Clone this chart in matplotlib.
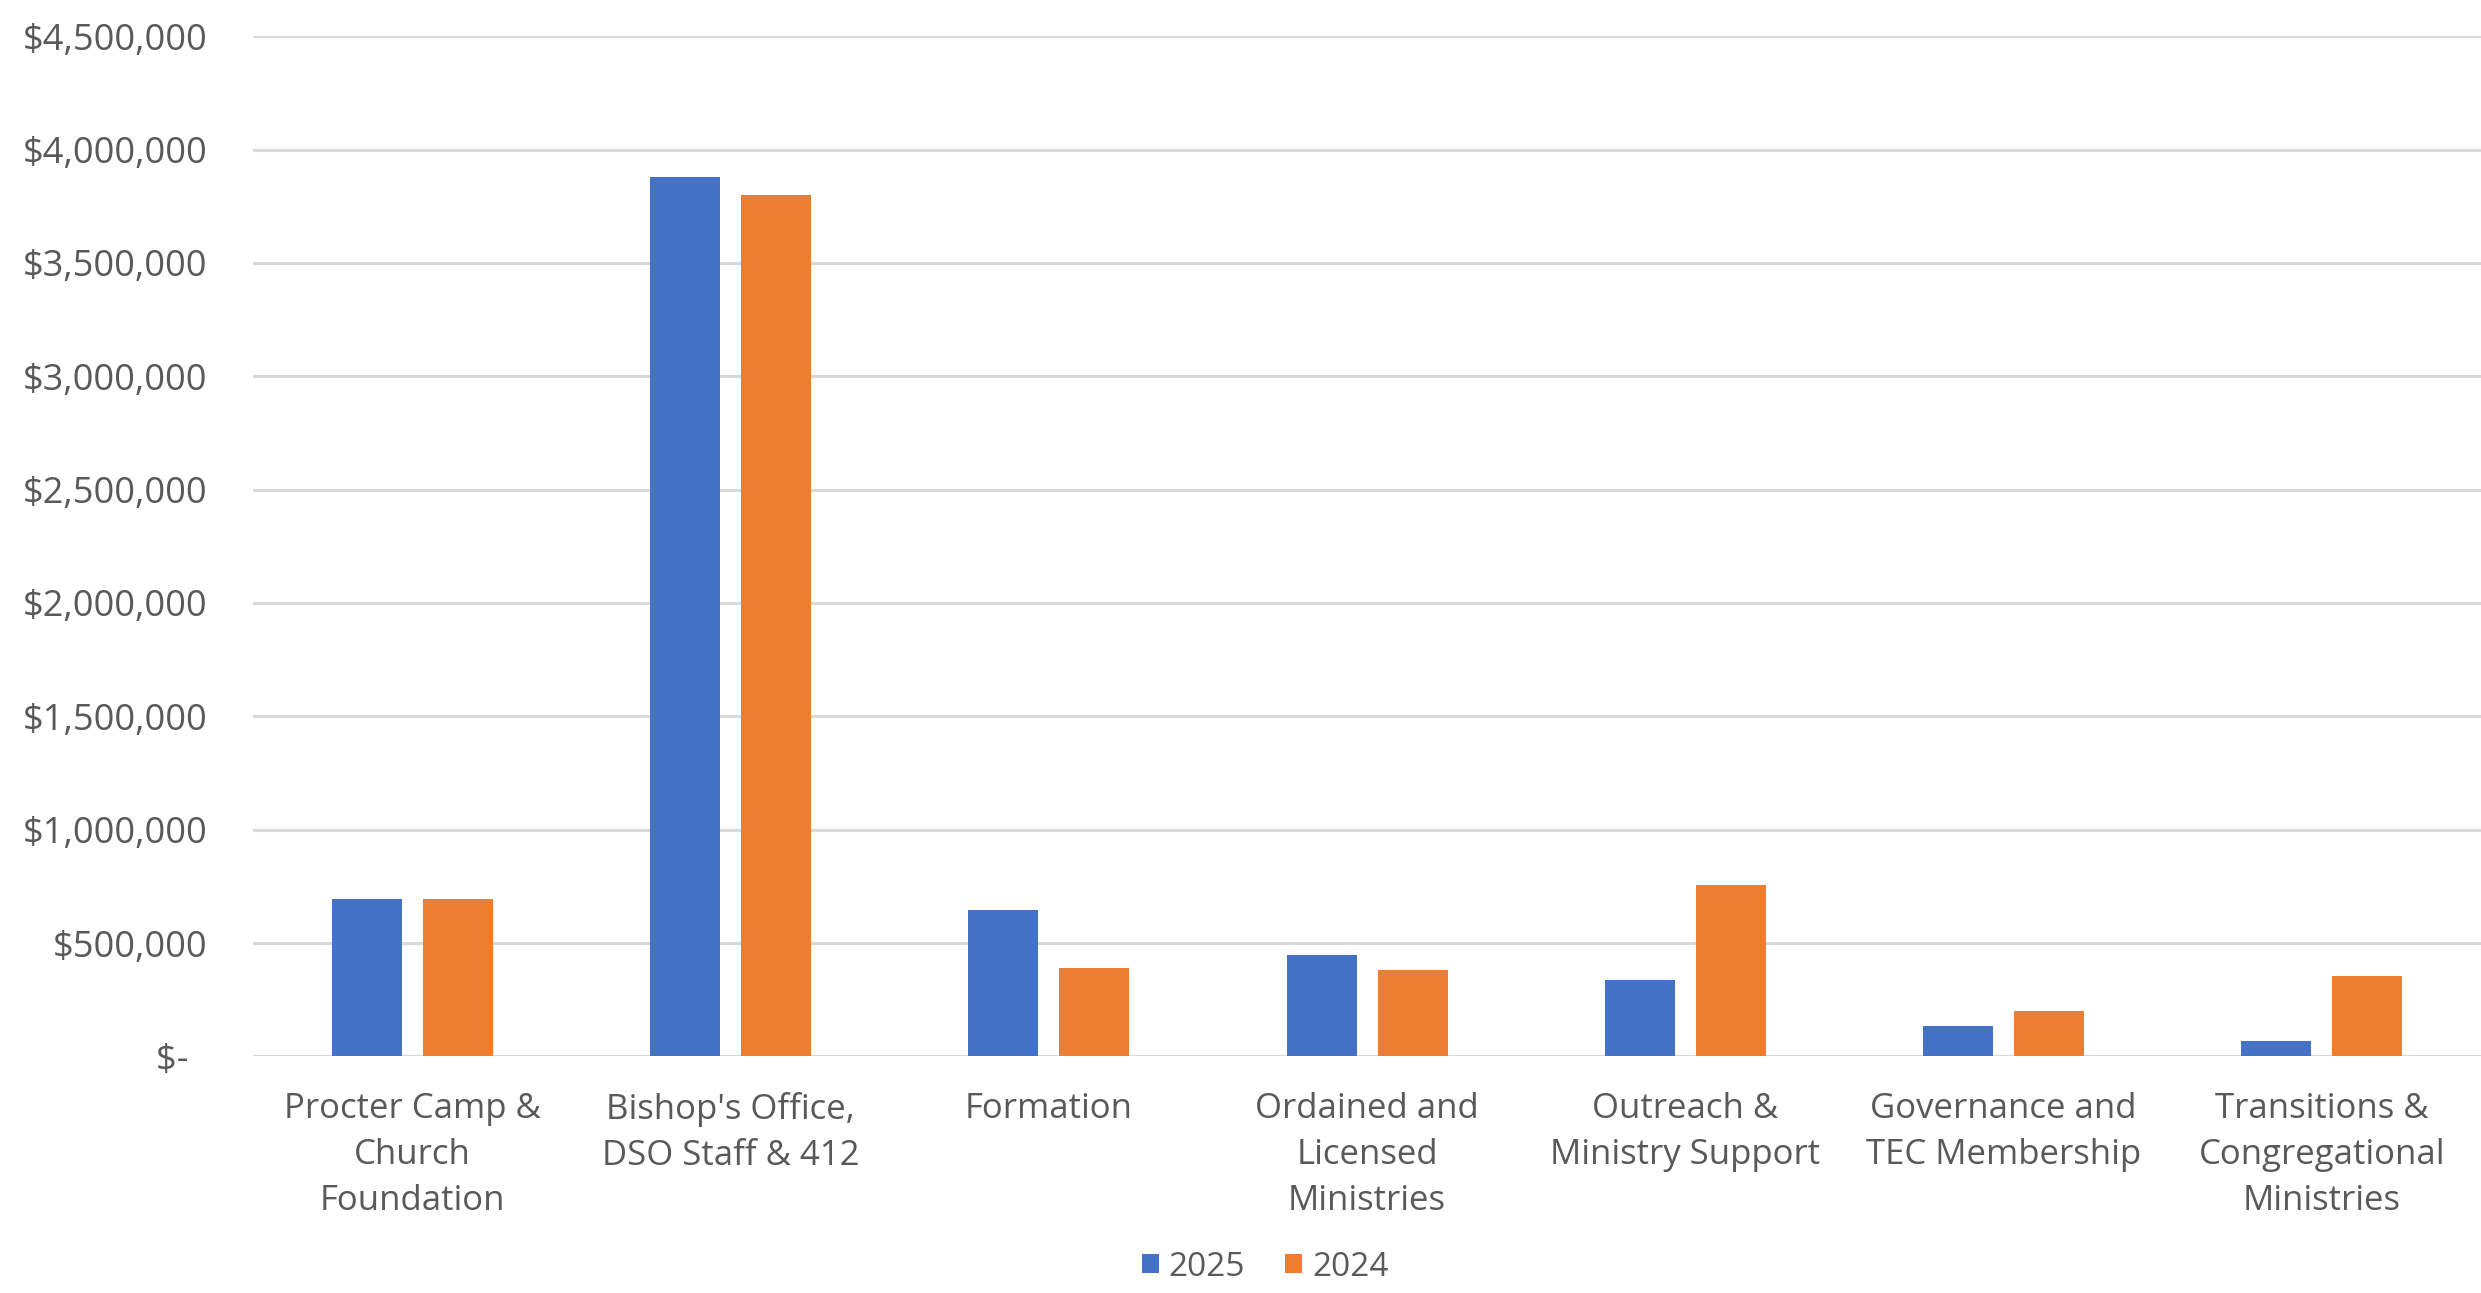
import numpy as np
import matplotlib

matplotlib.use("Agg")
import matplotlib.pyplot as plt
from matplotlib.ticker import FuncFormatter

# Budget by category
categories = [
    "Procter Camp &\nChurch\nFoundation",
    "Bishop's Office,\nDSO Staff & 412",
    "Formation",
    "Ordained and\nLicensed\nMinistries",
    "Outreach &\nMinistry Support",
    "Governance and\nTEC Membership",
    "Transitions &\nCongregational\nMinistries",
]
budget_2025 = [695000, 3880000, 645000, 449000, 336000, 134000, 67000]
budget_2024 = [695000, 3800000, 388000, 383000, 757000, 200000, 354000]
series_labels = ["2025", "2024"]

BLUE = "#4472C4"
ORANGE = "#ED7D31"
TEXT = "#595959"
GRID = "#D9D9D9"

plt.rcParams["font.family"] = ["Open Sans", "DejaVu Sans"]

fig = plt.figure(figsize=(24.81, 12.93), dpi=100)
ax = fig.add_axes([0.102, 0.183, 0.898, 0.789])

x = np.arange(len(categories))
w = 0.22
off = 0.143
ax.bar(x - off, budget_2025, width=w, color=BLUE, label=series_labels[0], zorder=3)
ax.bar(x + off, budget_2024, width=w, color=ORANGE, label=series_labels[1], zorder=3)

ax.set_xlim(-0.5, len(categories) - 0.5)
ax.set_ylim(0, 4500000)
ax.set_yticks(np.arange(0, 4500001, 500000))


def money(v, _pos):
    if v == 0:
        return "$-  "
    return f"${v:,.0f}"


ax.yaxis.set_major_formatter(FuncFormatter(money))
ax.grid(axis="y", color=GRID, linewidth=2.2, zorder=0)
ax.set_axisbelow(True)
for s in ax.spines.values():
    s.set_visible(False)
ax.tick_params(axis="y", length=0, pad=33, labelsize=26, labelcolor=TEXT)
ax.tick_params(axis="x", length=0, pad=26, labelsize=25, labelcolor=TEXT)
ax.set_xticks(x)
ax.set_xticklabels(categories, linespacing=1.45, va="top")

leg = fig.legend(
    loc="lower center",
    bbox_to_anchor=(0.51, -0.016),
    ncol=2,
    frameon=False,
    fontsize=24,
    handlelength=0.5,
    handleheight=0.5,
    handletextpad=0.3,
    columnspacing=1.2,
)
for t in leg.get_texts():
    t.set_color(TEXT)

fig.savefig("out.png", dpi=100, facecolor="white")
plt.close(fig)
